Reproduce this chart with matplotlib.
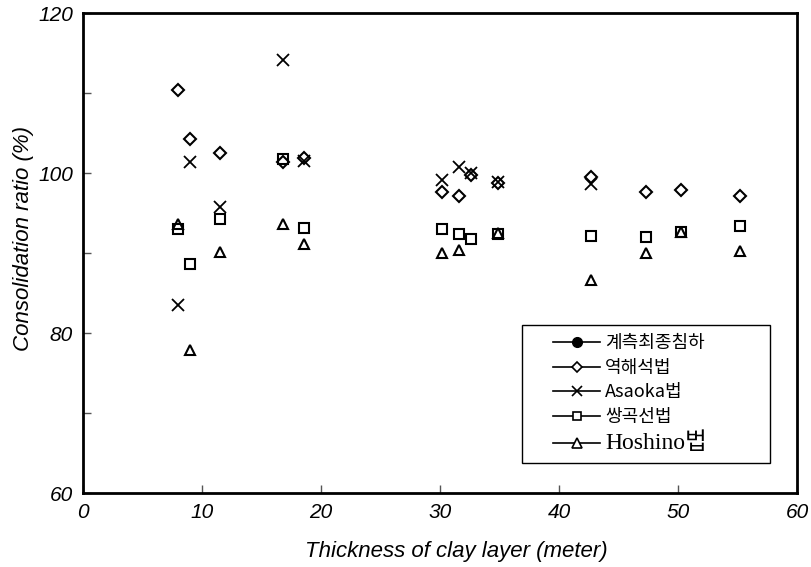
import matplotlib
matplotlib.use("Agg")
import matplotlib.pyplot as plt
import numpy as np
from matplotlib.ticker import MultipleLocator
from matplotlib.lines import Line2D
from matplotlib.legend_handler import HandlerLine2D

thickness = [8.0, 9.0, 11.5, 16.8, 18.6, 30.2, 31.6, 32.6, 34.9, 42.7, 47.3, 50.2, 55.2]
measured = [np.nan] * 13
back_analysis = [110.4, 104.3, 102.5, 101.4, 101.9, 97.7, 97.2, 99.8, 98.8, 99.5, 97.7, 97.9, 97.1]
asaoka = [83.5, 101.4, 95.8, 114.1, 101.5, 99.2, 100.8, 100.0, 98.9, 98.7, np.nan, np.nan, np.nan]
hyperbolic = [93.0, 88.7, 94.3, 101.8, 93.2, 93.0, 92.4, 91.8, 92.4, 92.2, 92.0, 92.7, 93.4]
hoshino = [93.7, 77.9, 90.2, 93.7, 91.2, 90.0, 90.4, np.nan, 92.5, 86.7, 90.0, 92.7, 90.3]

labels = ["계측최종침하", "역해석법", "Asaoka법", "쌍곡선법", "Hoshino법"]
x_ticks = [0, 10, 20, 30, 40, 50, 60]
y_ticks = [60, 80, 100, 120]

fig = plt.figure(figsize=(8.12, 5.67), dpi=100)
ax = fig.add_axes([0.102, 0.1305, 0.880, 0.846])

kw = dict(color="black", linestyle="none", markeredgewidth=1.5)
ax.plot(thickness, measured, marker="o", markerfacecolor="black", markersize=7, **kw)
ax.plot(thickness, back_analysis, marker="D", markerfacecolor="none", markersize=6, **kw)
ax.plot(thickness, asaoka, marker="x", markerfacecolor="none", markersize=9, color="black",
        linestyle="none", markeredgewidth=1.3)
ax.plot(thickness, hyperbolic, marker="s", markerfacecolor="none", markersize=7, **kw)
ax.plot(thickness, hoshino, marker="^", markerfacecolor="none", markersize=7.5, **kw)

ax.set_xlim(0, 60)
ax.set_ylim(60, 120)
ax.set_xticks(x_ticks)
ax.set_yticks(y_ticks)
ax.yaxis.set_minor_locator(MultipleLocator(10))
ax.tick_params(axis="both", which="both", direction="in", length=6, width=1, color="#555555")
ax.tick_params(axis="x", pad=7)
ax.tick_params(axis="y", pad=7)
for s in ax.spines.values():
    s.set_linewidth(2)
    s.set_color("black")

tick_font = dict(family="Liberation Sans", style="italic", size=15)
ax.set_xticklabels([str(t) for t in x_ticks], **tick_font)
ax.set_yticklabels([str(t) for t in y_ticks], **tick_font)
ax.set_xlabel("Thickness of clay layer (meter)", fontfamily="Liberation Sans", style="italic",
              fontsize=16)
ax.xaxis.set_label_coords(0.523, -0.10)
ax.set_ylabel("Consolidation ratio (%)", fontfamily="Liberation Sans", style="italic", fontsize=16)
ax.yaxis.set_label_coords(-0.068, 0.53)


class ShiftHandler(HandlerLine2D):
    def __init__(self, shift, **k):
        super().__init__(**k)
        self.shift = shift

    def create_artists(self, legend, orig_handle, xdescent, ydescent, width, height, fontsize, trans):
        return super().create_artists(legend, orig_handle, xdescent - self.shift, ydescent,
                                      width - self.shift, height, fontsize, trans)


handles = [
    Line2D([], [], color="black", lw=1.2, marker="o", markersize=7, markerfacecolor="black"),
    Line2D([], [], color="black", lw=1.2, marker="D", markersize=5.5, markerfacecolor="white", markeredgewidth=1.2),
    Line2D([], [], color="black", lw=1.2, marker="x", markersize=7, markeredgewidth=1.2),
    Line2D([], [], color="black", lw=1.2, marker="s", markersize=6, markerfacecolor="white", markeredgewidth=1.2),
    Line2D([], [], color="black", lw=1.2, marker="^", markersize=6.5, markerfacecolor="white", markeredgewidth=1.2),
]
fs = 13
shift_px = 22 * 72 / 100.0  # points
leg = ax.legend(handles, labels, loc="lower left", bbox_to_anchor=(0.615, 0.0625, 0.346, 0.29),
                mode="expand", frameon=True, fancybox=False, edgecolor="black", framealpha=1,
                prop=dict(family=["Noto Sans CJK KR", "DejaVu Sans"], size=fs),
                handlelength=3.8, handletextpad=0.28, labelspacing=0.36, borderpad=0.5,
                borderaxespad=0,
                handler_map={Line2D: ShiftHandler(shift_px)})
leg.get_frame().set_linewidth(1.0)
leg.get_texts()[4].set_fontfamily(["Liberation Serif", "Noto Sans CJK KR"])
leg.get_texts()[4].set_fontsize(17)

fig.savefig("out.png", dpi=100)
